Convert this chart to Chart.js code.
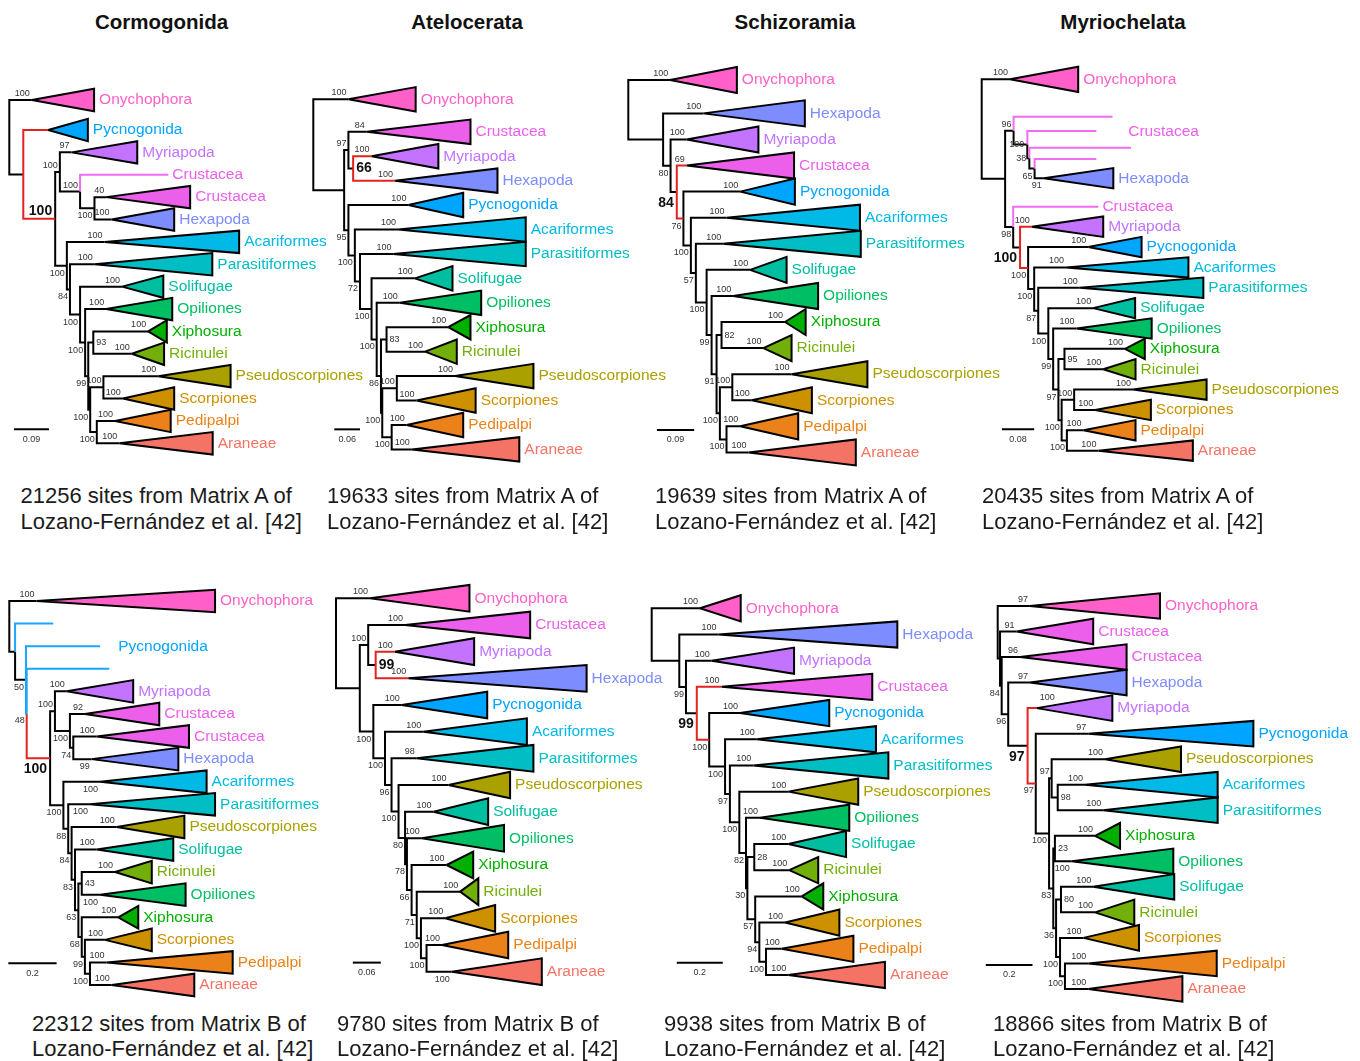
<!DOCTYPE html>
<html>
<head>
<meta charset="utf-8">
<script src="https://cdn.jsdelivr.net/npm/chart.js@4.4.1/dist/chart.umd.min.js"></script>
<style>
  html, body { margin: 0; padding: 0; background: #ffffff; }
  body { width: 1360px; height: 1061px; position: relative; overflow: hidden;
         font-family: "Liberation Sans", Arial, sans-serif; }
  .title { position: absolute; width: 300px; text-align: center; font-weight: bold;
           font-size: 20.5px; line-height: 24px; color: #111; }
  .cap { position: absolute; font-size: 22px; line-height: 26px; color: #1b1b1b; white-space: nowrap; }
  .panel { position: absolute; }
</style>
</head>
<body>
<script>
// ---------- clade colours ----------
const CLADE_COLORS = {
  Onychophora: '#ff5fc8', Crustacea: '#eb5feb', Myriapoda: '#c373ff', Hexapoda: '#7d8cff',
  Pycnogonida: '#00a5ff', Acariformes: '#00b9e6', Parasitiformes: '#00bec3', Solifugae: '#00bea0',
  Opiliones: '#00be64', Xiphosura: '#00af00', Ricinulei: '#73af0a', Pseudoscorpiones: '#aaa000',
  Scorpiones: '#cd9100', Pedipalpi: '#eb8219', Araneae: '#f57364'
};
const BRANCH_COLORS = { black: '#000000', red: '#e3231f', pink: '#f06cf0', blue: '#17a5ff' };
const FONT = '"Liberation Sans", Arial, sans-serif';

// ---------- tree data ----------
// internal nodes: [id, parent, depth from root (subst./site), bootstrap support]
// collapsed clades: [id, parent, clade, stem end depth (null = single branch), tip depth, support]

// Cormogonida, matrix A
const cormA_nodes = [
  ['R', null, 0, ''], ['A', 'R', 0.036, ''], ['B', 'A', 0.118, '100'], ['C', 'B', 0.130, '100'],
  ['D', 'C', 0.182, '100'], ['E', 'D', 0.219, '100'], ['F', 'B', 0.148, '100'], ['G', 'F', 0.156, '84'],
  ['H', 'G', 0.182, '100'], ['I', 'H', 0.195, '100'], ['J', 'I', 0.203, '99'], ['K', 'J', 0.216, '93'],
  ['L', 'J', 0.208, '100'], ['M', 'L', 0.242, '100'], ['N', 'L', 0.225, '100']
];
const cormA_tips = [
  ['t1', 'R', 'Onychophora', 0.058, 0.218, '100'], ['t2', 'A', 'Pycnogonida', 0.100, 0.202, ''],
  ['t3', 'C', 'Myriapoda', 0.160, 0.329, '97'], ['t4', 'D', 'Crustacea', null, 0.409, ''],
  ['t5', 'E', 'Crustacea', 0.249, 0.465, '40'], ['t6', 'E', 'Hexapoda', 0.263, 0.424, '100'],
  ['t7', 'F', 'Acariformes', 0.245, 0.591, '100'], ['t8', 'G', 'Parasitiformes', 0.220, 0.522, '100'],
  ['t9', 'H', 'Solifugae', 0.290, 0.396, '100'], ['t10', 'I', 'Opiliones', 0.249, 0.419, '100'],
  ['t11', 'K', 'Xiphosura', 0.357, 0.405, '100'], ['t12', 'K', 'Ricinulei', 0.315, 0.398, '100'],
  ['t13', 'M', 'Pseudoscorpiones', 0.383, 0.569, '100'], ['t14', 'M', 'Scorpiones', 0.292, 0.424, '100'],
  ['t15', 'N', 'Pedipalpi', 0.272, 0.415, '100'], ['t16', 'N', 'Araneae', 0.283, 0.523, '100']
];

// Atelocerata, matrix A
const atelA_nodes = [
  ['R', null, 0, ''], ['A', 'R', 0.072, ''], ['P', 'A', 0.082, '97'], ['S', 'P', 0.093, '66'],
  ['T', 'A', 0.082, '95'], ['U', 'T', 0.097, '100'], ['V', 'U', 0.109, '72'], ['W', 'V', 0.136, '100'],
  ['X', 'W', 0.148, '100'], ['Y', 'X', 0.158, '86'], ['Z', 'Y', 0.171, '83'], ['AA', 'Y', 0.161, '100'],
  ['BB', 'AA', 0.195, '100'], ['CC', 'AA', 0.183, '100']
];
const atelA_tips = [
  ['t1', 'R', 'Onychophora', 0.082, 0.239, '100'], ['t2', 'P', 'Crustacea', 0.125, 0.367, '84'],
  ['t3', 'S', 'Myriapoda', 0.136, 0.292, '100'], ['t4', 'S', 'Hexapoda', 0.191, 0.430, '100'],
  ['t5', 'T', 'Pycnogonida', 0.222, 0.350, '100'], ['t6', 'U', 'Acariformes', 0.198, 0.496, '100'],
  ['t7', 'V', 'Parasitiformes', 0.187, 0.496, '100'], ['t8', 'W', 'Solifugae', 0.237, 0.325, '100'],
  ['t9', 'X', 'Opiliones', 0.202, 0.392, '100'], ['t10', 'Z', 'Xiphosura', 0.315, 0.367, '100'],
  ['t11', 'Z', 'Ricinulei', 0.261, 0.335, '100'], ['t12', 'BB', 'Pseudoscorpiones', 0.331, 0.514, '100'],
  ['t13', 'BB', 'Scorpiones', 0.241, 0.379, '100'], ['t14', 'CC', 'Pedipalpi', 0.218, 0.350, '100'],
  ['t15', 'CC', 'Araneae', 0.230, 0.481, '100']
];

// Schizoramia, matrix A
const schizA_nodes = [
  ['R', null, 0, ''], ['A', 'R', 0.084, ''], ['B', 'A', 0.102, '80'], ['C', 'B', 0.117, '84'],
  ['D', 'C', 0.133, '76'], ['E', 'D', 0.151, '100'], ['F', 'E', 0.163, '57'], ['G', 'F', 0.189, '100'],
  ['H', 'G', 0.201, '99'], ['I', 'H', 0.213, '91'], ['J', 'I', 0.225, '82'], ['K', 'I', 0.221, '100'],
  ['L', 'K', 0.251, '100'], ['M', 'K', 0.237, '100']
];
const schizA_tips = [
  ['t1', 'R', 'Onychophora', 0.101, 0.262, '100'], ['t2', 'A', 'Hexapoda', 0.181, 0.426, '100'],
  ['t3', 'B', 'Myriapoda', 0.141, 0.314, '100'], ['t4', 'C', 'Crustacea', 0.141, 0.400, '69'],
  ['t5', 'D', 'Pycnogonida', 0.270, 0.402, '100'], ['t6', 'E', 'Acariformes', 0.237, 0.559, '100'],
  ['t7', 'F', 'Parasitiformes', 0.229, 0.561, '100'], ['t8', 'G', 'Solifugae', 0.294, 0.382, '100'],
  ['t9', 'H', 'Opiliones', 0.253, 0.458, '100'], ['t10', 'J', 'Xiphosura', 0.378, 0.428, '100'],
  ['t11', 'J', 'Ricinulei', 0.326, 0.394, '100'], ['t12', 'L', 'Pseudoscorpiones', 0.394, 0.577, '100'],
  ['t13', 'L', 'Scorpiones', 0.298, 0.443, '100'], ['t14', 'M', 'Pedipalpi', 0.270, 0.410, '100'],
  ['t15', 'M', 'Araneae', 0.290, 0.549, '100']
];

// Myriochelata, matrix A
const myrA_nodes = [
  ['R', null, 0, ''], ['A', 'R', 0.058, ''], ['B', 'A', 0.079, '96'], ['B2', 'B', 0.113, '100'],
  ['B3', 'B2', 0.118, '38'], ['B4', 'B3', 0.131, '65'], ['C', 'A', 0.078, '98'], ['D', 'C', 0.095, '100'],
  ['E', 'D', 0.115, '100'], ['F', 'E', 0.130, '100'], ['G', 'F', 0.140, '87'], ['H', 'G', 0.165, '100'],
  ['I', 'H', 0.177, '99'], ['J', 'I', 0.190, '97'], ['K', 'J', 0.205, '95'], ['L', 'J', 0.198, '100'],
  ['M', 'L', 0.229, '100'], ['N', 'L', 0.211, '100']
];
const myrA_tips = [
  ['t1', 'R', 'Onychophora', 0.070, 0.239, '100'], ['t2', 'B', 'Crustacea', null, 0.324, ''],
  ['t3', 'B2', 'Crustacea', null, 0.284, ''], ['t4', 'B3', 'Crustacea', null, 0.370, ''],
  ['t5', 'B4', 'Crustacea', null, 0.284, ''], ['t6', 'B4', 'Hexapoda', 0.154, 0.326, '91'],
  ['t7', 'C', 'Crustacea', null, 0.289, ''], ['t8', 'D', 'Myriapoda', 0.124, 0.301, '100'],
  ['t9', 'E', 'Pycnogonida', 0.264, 0.396, '100'], ['t10', 'F', 'Acariformes', 0.209, 0.512, '100'],
  ['t11', 'G', 'Parasitiformes', 0.243, 0.549, '100'], ['t12', 'H', 'Solifugae', 0.276, 0.380, '100'],
  ['t13', 'I', 'Opiliones', 0.235, 0.421, '100'], ['t14', 'K', 'Xiphosura', 0.355, 0.404, '100'],
  ['t15', 'K', 'Ricinulei', 0.301, 0.381, '100'], ['t16', 'M', 'Pseudoscorpiones', 0.375, 0.557, '100'],
  ['t17', 'M', 'Scorpiones', 0.281, 0.419, '100'], ['t18', 'N', 'Pedipalpi', 0.252, 0.381, '100'],
  ['t19', 'N', 'Araneae', 0.289, 0.523, '100']
];

// Cormogonida, matrix B
const cormB_nodes = [
  ['R', null, 0, ''], ['A', 'R', 0.024, ''], ['B', 'A', 0.069, '50'], ['Q', 'B', 0.072, '48'],
  ['C', 'Q', 0.169, '100'], ['D', 'C', 0.189, '100'], ['F', 'D', 0.251, '100'], ['G', 'F', 0.265, '74'],
  ['H', 'C', 0.224, '100'], ['I', 'H', 0.244, '88'], ['J', 'I', 0.258, '84'], ['K', 'J', 0.272, '83'],
  ['M', 'K', 0.286, '63'], ['L', 'M', 0.300, '43'], ['N', 'M', 0.300, '68'], ['P', 'N', 0.313, '99'],
  ['O', 'P', 0.334, '100']
];
const cormB_tips = [
  ['t1', 'R', 'Onychophora', 0.113, 0.852, '100'], ['t2', 'A', 'Pycnogonida', null, 0.182, ''],
  ['t3', 'B', 'Pycnogonida', null, 0.376, ''], ['t4', 'Q', 'Pycnogonida', null, 0.414, ''],
  ['t5', 'D', 'Myriapoda', 0.238, 0.513, '100'], ['t6', 'F', 'Crustacea', 0.313, 0.621, '92'],
  ['t7', 'G', 'Crustacea', 0.362, 0.744, '100'], ['t8', 'G', 'Hexapoda', 0.341, 0.700, '99'],
  ['t9', 'H', 'Acariformes', 0.376, 0.817, '100'], ['t10', 'I', 'Parasitiformes', 0.334, 0.852, '100'],
  ['t11', 'J', 'Pseudoscorpiones', 0.445, 0.725, '100'], ['t12', 'K', 'Solifugae', 0.362, 0.679, '100'],
  ['t13', 'L', 'Ricinulei', 0.438, 0.590, '100'], ['t14', 'L', 'Opiliones', 0.376, 0.730, '100'],
  ['t15', 'N', 'Xiphosura', 0.451, 0.534, '100'], ['t16', 'P', 'Scorpiones', 0.396, 0.590, '100'],
  ['t17', 'O', 'Pedipalpi', 0.403, 0.925, '100'], ['t18', 'O', 'Araneae', 0.424, 0.766, '100']
];

// Atelocerata, matrix B
const atelB_nodes = [
  ['R', null, 0, ''], ['A', 'R', 0.051, ''], ['B', 'A', 0.069, '100'], ['S', 'B', 0.085, '99'],
  ['C', 'A', 0.080, '100'], ['D', 'C', 0.105, '100'], ['E', 'D', 0.119, '96'], ['F', 'E', 0.134, '100'],
  ['G', 'F', 0.148, '80'], ['H', 'G', 0.152, '78'], ['I', 'H', 0.162, '66'], ['J', 'I', 0.173, '71'],
  ['K', 'J', 0.182, '100'], ['L', 'K', 0.194, '100']
];
const atelB_tips = [
  ['t1', 'R', 'Onychophora', 0.073, 0.286, '100'], ['t2', 'B', 'Crustacea', 0.148, 0.416, '100'],
  ['t3', 'S', 'Myriapoda', 0.126, 0.296, '100'], ['t4', 'S', 'Hexapoda', 0.155, 0.537, '100'],
  ['t5', 'C', 'Pycnogonida', 0.141, 0.324, '100'], ['t6', 'D', 'Acariformes', 0.187, 0.409, '100'],
  ['t7', 'E', 'Parasitiformes', 0.173, 0.423, '98'], ['t8', 'F', 'Pseudoscorpiones', 0.241, 0.373, '100'],
  ['t9', 'G', 'Solifugae', 0.209, 0.326, '100'], ['t10', 'H', 'Opiliones', 0.184, 0.360, '100'],
  ['t11', 'I', 'Xiphosura', 0.237, 0.294, '100'], ['t12', 'J', 'Ricinulei', 0.266, 0.305, '100'],
  ['t13', 'K', 'Scorpiones', 0.234, 0.341, '100'], ['t14', 'L', 'Pedipalpi', 0.227, 0.369, '100'],
  ['t15', 'L', 'Araneae', 0.248, 0.441, '100']
];

// Schizoramia, matrix B
const schizB_nodes = [
  ['R', null, 0, ''], ['A', 'R', 0.120, ''], ['B', 'A', 0.149, '99'], ['C', 'B', 0.196, '99'],
  ['D', 'C', 0.250, '100'], ['E', 'D', 0.319, '100'], ['F', 'E', 0.340, '97'], ['G', 'F', 0.381, '100'],
  ['H', 'G', 0.410, '82'], ['I', 'H', 0.416, '30'], ['J', 'I', 0.446, '28'], ['K', 'I', 0.450, '57'],
  ['L', 'K', 0.468, '94'], ['M', 'L', 0.497, '100']
];
const schizB_tips = [
  ['t1', 'R', 'Onychophora', 0.210, 0.387, '100'], ['t2', 'A', 'Hexapoda', 0.290, 1.068, '100'],
  ['t3', 'B', 'Myriapoda', 0.261, 0.619, '100'], ['t4', 'C', 'Crustacea', 0.304, 0.959, '100'],
  ['t5', 'D', 'Pycnogonida', 0.384, 0.772, '100'], ['t6', 'E', 'Acariformes', 0.457, 0.975, '100'],
  ['t7', 'F', 'Parasitiformes', 0.442, 1.029, '100'], ['t8', 'G', 'Pseudoscorpiones', 0.594, 0.898, '100'],
  ['t9', 'H', 'Opiliones', 0.471, 0.859, '100'], ['t10', 'J', 'Solifugae', 0.594, 0.845, '100'],
  ['t11', 'J', 'Ricinulei', 0.598, 0.724, '100'], ['t12', 'K', 'Xiphosura', 0.652, 0.746, '100'],
  ['t13', 'L', 'Scorpiones', 0.580, 0.816, '100'], ['t14', 'M', 'Pedipalpi', 0.565, 0.877, '100'],
  ['t15', 'M', 'Araneae', 0.594, 1.014, '100']
];

// Myriochelata, matrix B
const myrB_nodes = [
  ['R', null, 0, ''], ['N1', 'R', 0.010, ''], ['N3', 'N1', 0.017, '84'], ['N4', 'N3', 0.045, '96'],
  ['F', 'N4', 0.128, '97'], ['C1', 'F', 0.163, '97'], ['C2', 'C1', 0.220, '100'], ['C3', 'C2', 0.231, '97'],
  ['C5', 'C3', 0.257, '98'], ['C4', 'C2', 0.238, '83'], ['C6', 'C4', 0.245, '23'], ['Q', 'C4', 0.250, '36'],
  ['C8', 'Q', 0.271, '80'], ['P', 'Q', 0.267, '100'], ['O', 'P', 0.288, '100']
];
const myrB_tips = [
  ['t1', 'R', 'Onychophora', 0.138, 0.695, '97'], ['t2', 'N1', 'Crustacea', 0.081, 0.409, '91'],
  ['t3', 'N3', 'Crustacea', 0.096, 0.552, '96'], ['t4', 'N4', 'Hexapoda', 0.138, 0.552, '97'],
  ['t5', 'F', 'Myriapoda', 0.167, 0.491, '100'], ['t6', 'C1', 'Pycnogonida', 0.388, 1.095, '97'],
  ['t7', 'C3', 'Pseudoscorpiones', 0.460, 0.785, '100'], ['t8', 'C5', 'Acariformes', 0.374, 0.942, '100'],
  ['t9', 'C5', 'Parasitiformes', 0.452, 0.942, '100'], ['t10', 'C6', 'Xiphosura', 0.417, 0.524, '100'],
  ['t11', 'C6', 'Opiliones', 0.317, 0.752, '100'], ['t12', 'C8', 'Solifugae', 0.409, 0.756, '100'],
  ['t13', 'C8', 'Ricinulei', 0.417, 0.585, '100'], ['t14', 'P', 'Scorpiones', 0.367, 0.605, '100'],
  ['t15', 'O', 'Pedipalpi', 0.388, 0.938, '100'], ['t16', 'O', 'Araneae', 0.388, 0.791, '100']
];

// ---------- panel annotations ----------
const hypotheses = ['Cormogonida', 'Atelocerata', 'Schizoramia', 'Myriochelata'];
const siteCounts = [21256, 19633, 19639, 20435, 22312, 9780, 9938, 18866];
const matrices = ['A', 'A', 'A', 'A', 'B', 'B', 'B', 'B'];
const scaleBars = [0.09, 0.06, 0.09, 0.08, 0.2, 0.06, 0.2, 0.2];

// ---------- layout (canvas boxes, tip slots, label placement) ----------
function seq(first, start, n) { const a = [0]; for (let i = 0; i < n - 1; i++) a.push(start + i); return a; }
function range(n) { return Array.from({ length: n }, (_, i) => i); }

const layouts = [
  { box: [0, 60, 380, 420], rootX: 9.3, tip0Y: 100, pxPerUnit: 388.9, pxPerSlot: 22.38,
    slots: seq(0, 1.34, 16),
    pos: { E: 'b', F: 'b', G: 'b', H: 'b', I: 'b', J: 'b', K: 'r', L: 'b', N: 'b' },
    branch: { t2: 'red', B: 'red', t4: 'pink' }, bold: { id: 'B', pos: 'a' },
    bar: { from: 0.012, slot: 14.71 } },
  { box: [305, 60, 380, 420], rootX: 313.3, tip0Y: 99.3, pxPerUnit: 428.3, pxPerSlot: 24.43,
    slots: seq(0, 1.33, 15),
    pos: { T: 'b', U: 'b', V: 'b', W: 'b', X: 'b', Y: 'b', Z: 'r', AA: 'b', CC: 'b' },
    branch: { t3: 'red', t4: 'red' }, bold: { id: 'S', pos: 'r' },
    bar: { from: 0.049, slot: 13.51 } },
  { box: [620, 60, 400, 420], rootX: 628.3, tip0Y: 80, pxPerUnit: 414.4, pxPerSlot: 26.08,
    slots: seq(0, 1.28, 15),
    pos: { B: 'b', D: 'b', E: 'b', F: 'b', G: 'b', H: 'b', I: 'b', J: 'r', K: 'b', M: 'b' },
    branch: { t4: 'red', D: 'red' }, bold: { id: 'C', pos: 'b' },
    bar: { from: 0.069, slot: 13.42 } },
  { box: [970, 60, 390, 420], rootX: 981.7, tip0Y: 79.3, pxPerUnit: 403.75, pxPerSlot: 20.36,
    slots: [0, 1.84, 2.54, 3.36, 3.91, 4.86, 6.26, 7.24, 8.24, 9.24, 10.24, 11.24, 12.24, 13.24, 14.24, 15.24, 16.24, 17.24, 18.24],
    pos: { B2: 'l', B3: 'l', B4: 'b', t6: 'b', C: 'b', E: 'b', F: 'b', G: 'b', H: 'b', I: 'b', J: 'b', K: 'r', L: 'b', N: 'b' },
    branch: { t2: 'pink', t3: 'pink', t4: 'pink', t5: 'pink', t7: 'pink', t8: 'red', E: 'red' },
    bold: { id: 'D', pos: 'b' }, hide: ['t2', 't3', 't4', 't5'],
    groups: [{ clade: 'Crustacea', depth: 0.363, slot: 2.57 }], half: { t1: 0.62 },
    bar: { from: 0.050, slot: 17.19 } },
  { box: [0, 575, 330, 430], rootX: 9.3, tip0Y: 601, pxPerUnit: 241.5, pxPerSlot: 22.59,
    slots: range(18),
    pos: { B: 'b', Q: 'b', F: 'b', G: 'b', H: 'b', I: 'b', J: 'b', K: 'b', M: 'b', L: 'r', N: 'b', P: 'b', O: 'b',
           t8: 'b', t9: 'b', t10: 'b', t14: 'b' },
    branch: { t2: 'blue', t3: 'blue', Q: 'blue', t4: 'blue', C: 'red' }, bold: { id: 'C', pos: 'b' },
    hide: ['t2', 't3', 't4'], groups: [{ clade: 'Pycnogonida', depth: 0.451, slot: 2.02 }],
    bar: { from: -0.004, slot: 16.04 } },
  { box: [325, 575, 340, 430], rootX: 336, tip0Y: 598.3, pxPerUnit: 466.7, pxPerSlot: 26.67,
    slots: range(15),
    pos: { C: 'b', D: 'b', E: 'b', F: 'b', G: 'b', H: 'b', I: 'b', J: 'b', K: 'b', L: 'b', t15: 'b' },
    branch: { t3: 'red', t4: 'red' }, bold: { id: 'S', pos: 'r' },
    bar: { from: 0.036, slot: 13.66 } },
  { box: [640, 575, 380, 430], rootX: 651.7, tip0Y: 608.3, pxPerUnit: 230, pxPerSlot: 26.19,
    slots: range(15),
    pos: { B: 'b', D: 'b', E: 'b', F: 'b', G: 'b', H: 'b', I: 'b', J: 'r', K: 'b', L: 'b', M: 'b' },
    branch: { t4: 'red', D: 'red' }, bold: { id: 'C', pos: 'b' },
    bar: { from: 0.109, slot: 13.53 } },
  { box: [975, 575, 385, 430], rootX: 997.7, tip0Y: 606, pxPerUnit: 233.5, pxPerSlot: 25.53,
    slots: range(16),
    pos: { N3: 'b', N4: 'b', C1: 'b', C2: 'b', C5: 'r', C4: 'b', C6: 'r', Q: 'b', C8: 'r', P: 'b', O: 'b',
           t5: 'ar', t11: 'b' },
    branch: { t5: 'red', C1: 'red' }, bold: { id: 'F', pos: 'b' },
    bar: { from: -0.051, slot: 14.06 } }
];

const trees = [
  [cormA_nodes, cormA_tips], [atelA_nodes, atelA_tips], [schizA_nodes, schizA_tips], [myrA_nodes, myrA_tips],
  [cormB_nodes, cormB_tips], [atelB_nodes, atelB_tips], [schizB_nodes, schizB_tips], [myrB_nodes, myrB_tips]
];

// ---------- drawing ----------
function drawTree(nodes, tips, L, barValue) {
  const rows = {};
  const kids = {};
  nodes.forEach(n => { rows[n[0]] = { id: n[0], parent: n[1], depth: n[2], support: n[3], tip: false }; });
  tips.forEach((t, i) => {
    rows[t[0]] = { id: t[0], parent: t[1], clade: t[2], apex: t[3], depth: t[3] === null ? t[4] : t[3],
                   end: t[4], support: t[5], tip: true, slot: L.slots[i] };
  });
  Object.values(rows).forEach(r => { if (r.parent) (kids[r.parent] = kids[r.parent] || []).push(r.id); });
  function slotOf(id) {
    const r = rows[id];
    if (r.slot === undefined) {
      const s = kids[id].map(slotOf);
      r.slot = (Math.min(...s) + Math.max(...s)) / 2;
    }
    return r.slot;
  }
  Object.keys(rows).forEach(slotOf);

  // rectangular branches: vertical at the parent depth, then horizontal to the child
  const segs = {};
  Object.values(rows).forEach(r => {
    if (!r.parent) return;
    const p = rows[r.parent];
    const c = (L.branch && L.branch[r.id]) || 'black';
    (segs[c] = segs[c] || []).push(
      { x: p.depth, y: p.slot }, { x: p.depth, y: r.slot }, { x: r.depth, y: r.slot }, { x: r.depth, y: null });
  });

  const datasets = [];
  Object.keys(segs).forEach(c => {
    datasets.push({ data: segs[c], borderColor: BRANCH_COLORS[c], borderWidth: 2, pointRadius: 0,
                    fill: false, spanGaps: false, borderJoinStyle: 'miter', borderCapStyle: 'butt',
                    order: c === 'black' ? 3 : 2 });
  });
  // collapsed clades as triangles
  Object.values(rows).forEach(r => {
    if (!r.tip || r.apex === null) return;
    const h = (L.half && L.half[r.id]) || 0.5;
    datasets.push({
      data: [{ x: r.apex, y: r.slot }, { x: r.end, y: r.slot - h }, { x: r.end, y: r.slot + h }, { x: r.apex, y: r.slot }],
      backgroundColor: CLADE_COLORS[r.clade], borderColor: '#000000', borderWidth: 2, pointRadius: 0,
      fill: 'shape', borderJoinStyle: 'miter', order: 1
    });
  });
  // scale bar
  datasets.push({ data: [{ x: L.bar.from, y: L.bar.slot }, { x: L.bar.from + barValue, y: L.bar.slot }],
                  borderColor: '#000000', borderWidth: 2, pointRadius: 0, fill: false, order: 3 });

  const textPlugin = {
    id: 'treeText',
    afterDatasetsDraw(chart) {
      const ctx = chart.ctx, xs = chart.scales.x, ys = chart.scales.y;
      const X = v => xs.getPixelForValue(v), Y = v => ys.getPixelForValue(v);
      ctx.save();
      ctx.textBaseline = 'middle';
      // clade names
      ctx.font = '15.5px ' + FONT;
      ctx.textAlign = 'left';
      const hide = L.hide || [];
      Object.values(rows).forEach(r => {
        if (!r.tip || hide.includes(r.id)) return;
        ctx.fillStyle = CLADE_COLORS[r.clade];
        ctx.fillText(r.clade, X(r.end) + (r.apex === null ? 4 : 5), Y(r.slot));
      });
      (L.groups || []).forEach(g => {
        ctx.fillStyle = CLADE_COLORS[g.clade];
        ctx.fillText(g.clade, X(g.depth), Y(g.slot));
      });
      // bootstrap supports
      Object.values(rows).forEach(r => {
        if (!r.support) return;
        const x = X(r.tip ? r.apex : r.depth), y = Y(r.slot);
        if (L.bold && L.bold.id === r.id) {
          ctx.font = 'bold 14px ' + FONT;
          ctx.fillStyle = '#111111';
          const m = L.bold.pos;
          if (m === 'r') { ctx.textAlign = 'left'; ctx.fillText(r.support, x + 3, y); }
          else if (m === 'a') { ctx.textAlign = 'right'; ctx.fillText(r.support, x - 3, y - 8); }
          else { ctx.textAlign = 'right'; ctx.fillText(r.support, x - 3, y + 11); }
          return;
        }
        ctx.font = '9px ' + FONT;
        ctx.fillStyle = '#333333';
        const m = (L.pos && L.pos[r.id]) || 'a';
        if (m === 'a') { ctx.textAlign = 'right'; ctx.fillText(r.support, x - 2, y - 6.5); }
        else if (m === 'b') { ctx.textAlign = 'right'; ctx.fillText(r.support, x - 2, y + 7.5); }
        else if (m === 'r') { ctx.textAlign = 'left'; ctx.fillText(r.support, x + 3, y); }
        else if (m === 'l') { ctx.textAlign = 'right'; ctx.fillText(r.support, x - 3, y); }
        else if (m === 'ar') { ctx.textAlign = 'left'; ctx.fillText(r.support, x + 3, y - 11); }
      });
      // scale bar value
      ctx.font = '9px ' + FONT;
      ctx.fillStyle = '#333333';
      ctx.textAlign = 'center';
      ctx.fillText(String(barValue), X(L.bar.from + barValue / 2), Y(L.bar.slot) + 10);
      ctx.restore();
    }
  };

  const [left, top, w, h] = L.box;
  const holder = document.createElement('div');
  holder.className = 'panel';
  holder.style.left = left + 'px';
  holder.style.top = top + 'px';
  const canvas = document.createElement('canvas');
  canvas.width = w; canvas.height = h;
  canvas.style.width = w + 'px'; canvas.style.height = h + 'px';
  holder.appendChild(canvas);
  document.body.appendChild(holder);

  new Chart(canvas, {
    type: 'line',
    data: { datasets },
    options: {
      responsive: false, animation: false, devicePixelRatio: 1, events: [],
      layout: { padding: 0 },
      plugins: { legend: { display: false }, tooltip: { enabled: false } },
      elements: { line: { tension: 0 }, point: { radius: 0 } },
      scales: {
        x: { type: 'linear', display: false,
             min: (left - L.rootX) / L.pxPerUnit, max: (left + w - L.rootX) / L.pxPerUnit },
        y: { type: 'linear', display: false, reverse: true,
             min: (top - L.tip0Y) / L.pxPerSlot, max: (top + h - L.tip0Y) / L.pxPerSlot }
      }
    },
    plugins: [textPlugin]
  });
}

trees.forEach((t, i) => drawTree(t[0], t[1], layouts[i], scaleBars[i]));

// ---------- titles and captions ----------
const titleCenters = [161.5, 467, 795, 1123];
hypotheses.forEach((name, i) => {
  const d = document.createElement('div');
  d.className = 'title';
  d.textContent = name;
  d.style.left = (titleCenters[i] - 150) + 'px';
  d.style.top = '10px';
  document.body.appendChild(d);
});
const capLefts = [20.5, 327, 655, 982, 32, 337, 664, 993];
siteCounts.forEach((n, i) => {
  const row = i < 4 ? 0 : 1;
  const firstCenter = row === 0 ? 496 : 1024;
  const lineGap = row === 0 ? 26 : 25;
  const lines = [n + ' sites from Matrix ' + matrices[i] + ' of', 'Lozano-Fernández et al. [42]'];
  lines.forEach((txt, k) => {
    const d = document.createElement('div');
    d.className = 'cap';
    d.textContent = txt;
    d.style.left = capLefts[i] + 'px';
    d.style.top = (firstCenter + k * lineGap - 13) + 'px';
    document.body.appendChild(d);
  });
});
</script>
</body>
</html>
